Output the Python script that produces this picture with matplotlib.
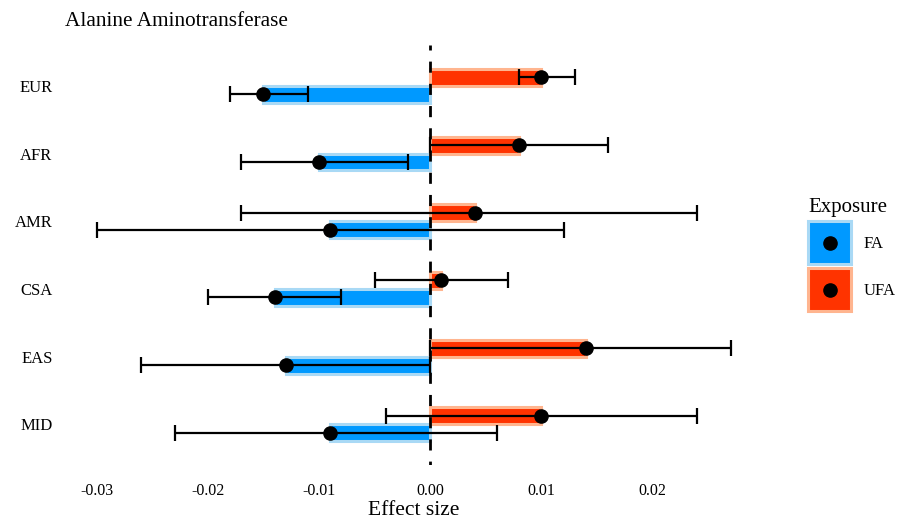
import numpy as np
import matplotlib
matplotlib.use("Agg")
import matplotlib.pyplot as plt
from matplotlib.patches import Patch, Rectangle
from matplotlib.lines import Line2D
from matplotlib.legend_handler import HandlerBase

plt.rcParams['font.family'] = ['Liberation Serif', 'DejaVu Serif']

# data
regions = ['EUR', 'AFR', 'AMR', 'CSA', 'EAS', 'MID']
fa_est = [-0.015, -0.010, -0.009, -0.014, -0.013, -0.009]
fa_lo = [-0.018, -0.017, -0.030, -0.020, -0.026, -0.023]
fa_hi = [-0.011, -0.002, 0.012, -0.008, 0.000, 0.006]
ufa_est = [0.010, 0.008, 0.004, 0.001, 0.014, 0.010]
ufa_lo = [0.008, 0.000, -0.017, -0.005, 0.000, -0.004]
ufa_hi = [0.013, 0.016, 0.024, 0.007, 0.027, 0.024]
xticks = [-0.03, -0.02, -0.01, 0.00, 0.01, 0.02]

fa_col, fa_edge = '#0099FF', '#A9D9F5'
ufa_col, ufa_edge = '#FF3300', '#FFB58F'


class KeyHandler(HandlerBase):
    # square key with a black dot in the middle, like the ggplot legend
    def create_artists(self, legend, orig_handle, xdescent, ydescent,
                       width, height, fontsize, trans):
        r = Rectangle((-xdescent, -ydescent), width, height,
                      facecolor=orig_handle.get_facecolor(),
                      edgecolor=orig_handle.get_edgecolor(),
                      linewidth=2.2, transform=trans)
        m = Line2D([-xdescent + width / 2], [-ydescent + height / 2],
                   marker='o', color='black', markersize=9.5,
                   linestyle='none', transform=trans)
        return [r, m]


fig = plt.figure(figsize=(9.09, 5.20), dpi=100)
ax = fig.add_axes([0.0715, 0.106, 0.767, 0.807])

n = len(regions)
ypos = np.arange(n)[::-1]
h = 0.25

groups = [
    (fa_est, fa_lo, fa_hi, fa_col, fa_edge, -h / 2),
    (ufa_est, ufa_lo, ufa_hi, ufa_col, ufa_edge, h / 2),
]
for est, lo, hi, col, edge, off in groups:
    est = np.array(est)
    y = ypos + off
    ax.barh(y, est, height=h, color=col, edgecolor=edge, linewidth=2.2, zorder=1)
    err = [est - np.array(lo), np.array(hi) - est]
    ax.errorbar(est, y, xerr=err, fmt='none', ecolor='black', elinewidth=1.6,
                capsize=5.8, capthick=1.6, zorder=3)
    ax.plot(est, y, 'o', color='black', markersize=9.5, zorder=4)

# zero line, dashes phased so the pattern starts at the top like the reference
ax.plot([0, 0], [n - 1 + 0.6, -0.6], color='black', linestyle=(2.2, (4, 4)),
        linewidth=2.0, zorder=2)

allv = fa_lo + fa_hi + ufa_lo + ufa_hi
lo_, hi_ = min(allv), max(allv)
pad = 0.05 * (hi_ - lo_)
ax.set_xlim(lo_ - pad, hi_ + pad)
ax.set_ylim(-0.6, n - 1 + 0.6)

ax.set_yticks(ypos)
ax.set_yticklabels(regions, fontsize=12)
ax.set_xticks(xticks)
ax.set_xticklabels([f'{t:.2f}' for t in xticks], fontsize=11.5)
ax.tick_params(axis='y', length=0, pad=9)
ax.tick_params(axis='x', length=0, pad=13)
for s in ax.spines.values():
    s.set_visible(False)

ax.set_xlabel('Effect size', fontsize=15.5, labelpad=1.5)
ax.set_title('Alanine Aminotransferase', fontsize=15.3, loc='left', pad=14)

handles = [Patch(facecolor=fa_col, edgecolor=fa_edge),
           Patch(facecolor=ufa_col, edgecolor=ufa_edge)]
leg = fig.legend(handles, ['FA', 'UFA'], title='Exposure', fontsize=12,
                 title_fontsize=15, loc='center left',
                 bbox_to_anchor=(0.882, 0.51), frameon=False,
                 handler_map={Patch: KeyHandler()},
                 handlelength=2.55, handleheight=3.58, handletextpad=0.75,
                 labelspacing=0.25, borderaxespad=0)
leg._legend_box.align = 'left'

fig.savefig('out.png', dpi=100)
